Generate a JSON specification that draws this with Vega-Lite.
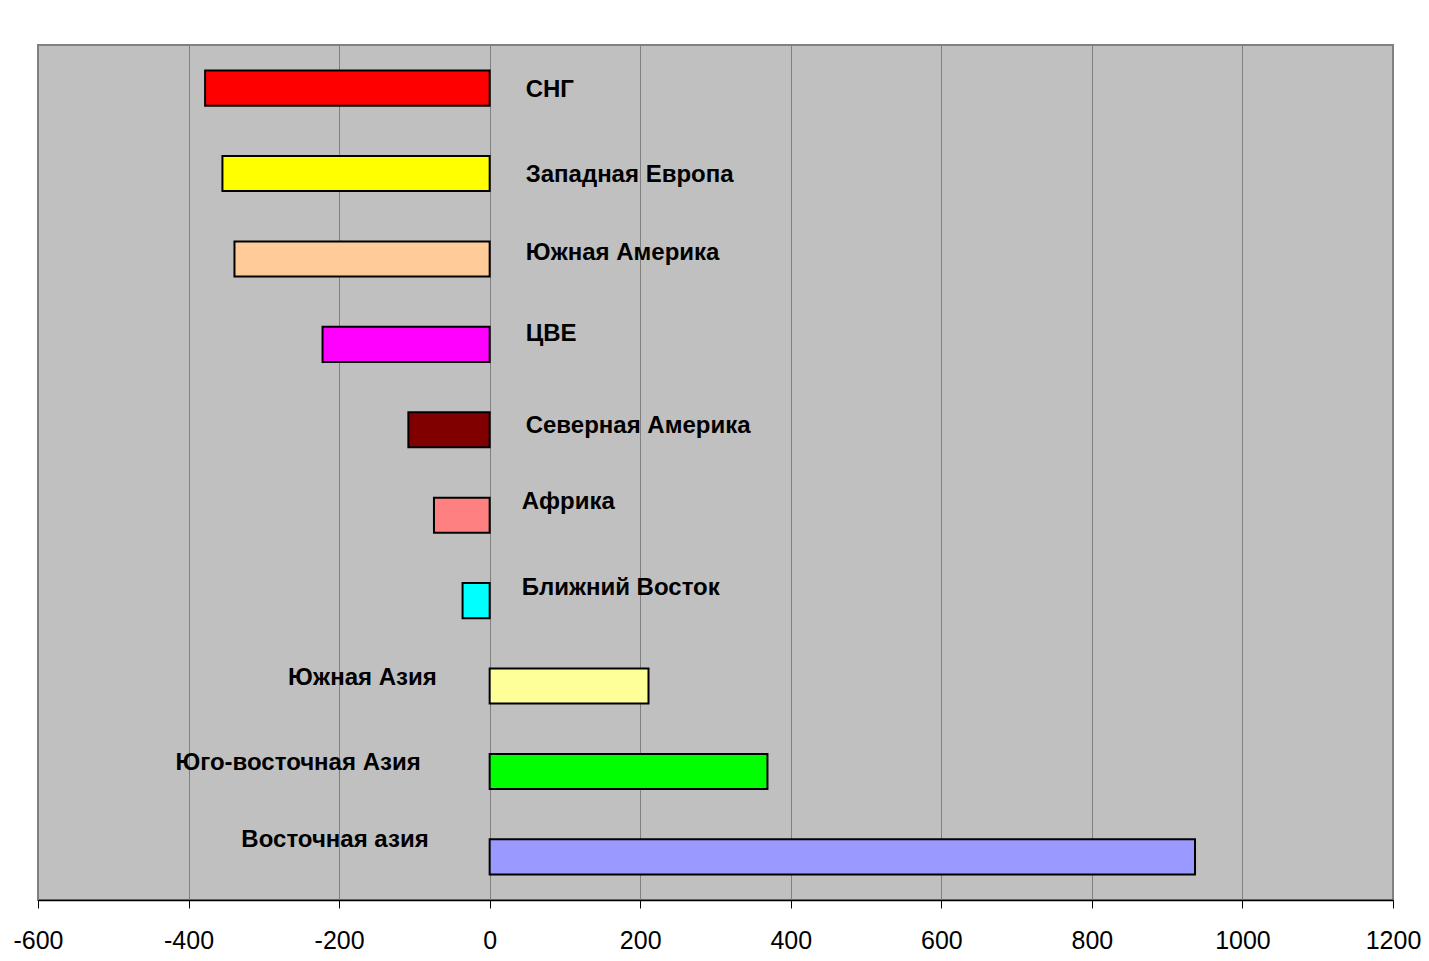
{
  "$schema": "https://vega.github.io/schema/vega-lite/v6.json",
  "width": 1355,
  "height": 855,
  "autosize": {"type": "none"},
  "padding": {"left": 38, "top": 45, "right": 36, "bottom": 61},
  "background": "#FFFFFF",
  "config": {
    "view": {"fill": "#C0C0C0", "stroke": "#808080", "strokeWidth": 2},
    "font": "Liberation Sans"
  },
  "data": {
    "values": [
      {"region": "СНГ", "value": -378, "color": "#FF0000"},
      {"region": "Западная Европа", "value": -355, "color": "#FFFF00"},
      {"region": "Южная Америка", "value": -339, "color": "#FFCC99"},
      {"region": "ЦВЕ", "value": -222, "color": "#FF00FF"},
      {"region": "Северная Америка", "value": -108, "color": "#800000"},
      {"region": "Африка", "value": -74, "color": "#FF8080"},
      {"region": "Ближний Восток", "value": -36, "color": "#00FFFF"},
      {"region": "Южная Азия", "value": 211, "color": "#FFFF99"},
      {"region": "Юго-восточная Азия", "value": 369, "color": "#00FF00"},
      {"region": "Восточная азия", "value": 937, "color": "#9999FF"}
    ]
  },
  "encoding": {
    "y": {
      "field": "region",
      "type": "nominal",
      "sort": null,
      "scale": {"paddingInner": 0.59, "paddingOuter": 0.3},
      "axis": null
    }
  },
  "layer": [
    {
      "mark": {"type": "bar", "stroke": "#000000", "strokeWidth": 2},
      "encoding": {
        "x": {
          "field": "value",
          "type": "quantitative",
          "scale": {"domain": [-600, 1200], "nice": false, "zero": false},
          "axis": {
            "values": [-600, -400, -200, 0, 200, 400, 600, 800, 1000, 1200],
            "labelExpr": "datum.value + ''",
            "title": null,
            "grid": true,
            "gridColor": "#808080",
            "gridWidth": 1,
            "gridOpacity": 1,
            "domainColor": "#000000",
            "domainWidth": 1.5,
            "tickColor": "#000000",
            "tickSize": 8,
            "tickWidth": 1,
            "labelFont": "Liberation Sans",
            "labelFontSize": 25,
            "labelColor": "#000000",
            "labelPadding": 20,
            "labelFlush": false,
            "labelOverlap": false
          }
        },
        "x2": {"datum": 0},
        "fill": {"field": "color", "type": "nominal", "scale": null}
      }
    },
    {
      "mark": {
        "type": "text",
        "fontWeight": "bold",
        "fontSize": 24,
        "font": "Liberation Sans",
        "baseline": "alphabetic",
        "color": "#000000",
        "align": {"expr": "datum.value < 0 ? 'left' : 'right'"},
        "dx": {"expr": "[36,36,36,36,36,32,32,-53,-69,-61][indexof(['СНГ','Западная Европа','Южная Америка','ЦВЕ','Северная Америка','Африка','Ближний Восток','Южная Азия','Юго-восточная Азия','Восточная азия'], datum.region)]"},
        "dy": {"expr": "[9,8,1,-3,3,-6,-6,-1,-1,-10][indexof(['СНГ','Западная Европа','Южная Америка','ЦВЕ','Северная Америка','Африка','Ближний Восток','Южная Азия','Юго-восточная Азия','Восточная азия'], datum.region)]"}
      },
      "encoding": {
        "x": {"datum": 0, "type": "quantitative"},
        "text": {"field": "region", "type": "nominal"}
      }
    }
  ]
}
